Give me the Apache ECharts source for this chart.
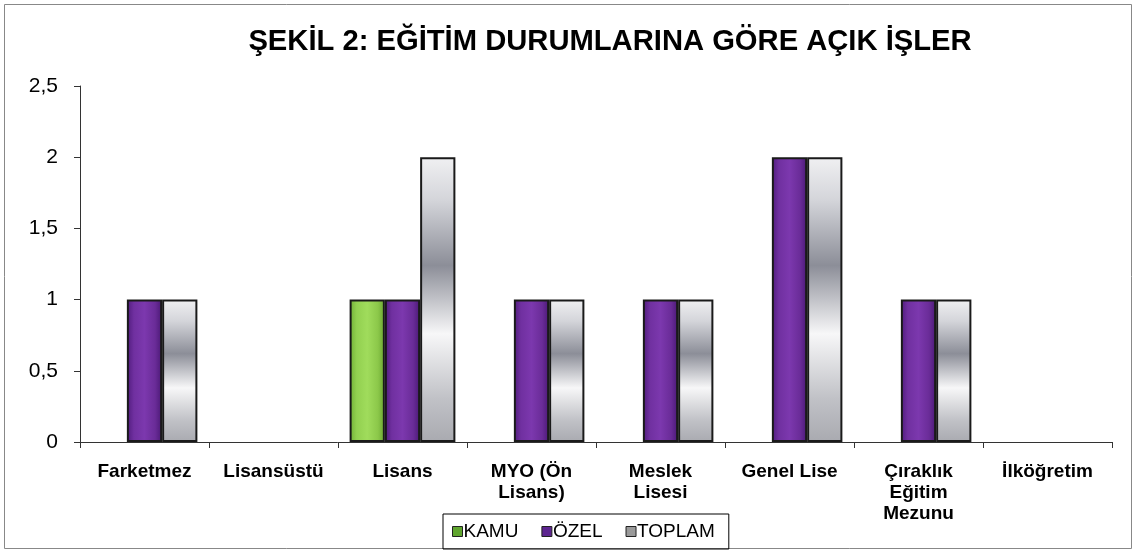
<!DOCTYPE html>
<html><head><meta charset="utf-8">
<script src="https://cdn.jsdelivr.net/npm/echarts@6/dist/echarts.min.js"></script>
<style>html,body{margin:0;padding:0;background:#fff}#c{width:1136px;height:553px}</style>
</head><body><div id="c"></div>
<script>
const categories = ['Farketmez','Lisansüstü','Lisans','MYO (Ön\nLisans)','Meslek\nLisesi','Genel Lise','Çıraklık\nEğitim\nMezunu','İlköğretim'];
const kamu = [0,0,1,0,0,0,0,0];
const ozel = [1,0,1,1,1,2,1,0];
const toplam = [1,0,2,1,1,2,1,0];
const seriesNames = ['KAMU','ÖZEL','TOPLAM'];
const yTicks = ['0','0,5','1','1,5','2','2,5'];
const titleText = 'ŞEKİL 2: EĞİTİM DURUMLARINA GÖRE AÇIK İŞLER';

const chart = echarts.init(document.getElementById('c'));
const font = 'Arial, "Liberation Sans", sans-serif';
function hGrad(stops){return new echarts.graphic.LinearGradient(0,0,1,0,stops);}
function vGrad(stops){return new echarts.graphic.LinearGradient(0,0,0,1,stops);}
const greenFill = hGrad([{offset:0,color:'#6fae35'},{offset:0.2,color:'#92d050'},{offset:0.5,color:'#a0dc5c'},{offset:0.8,color:'#8cc84a'},{offset:1,color:'#68a530'}]);
const purpleFill = hGrad([{offset:0,color:'#4f1b7c'},{offset:0.2,color:'#7030a0'},{offset:0.5,color:'#7c38ae'},{offset:0.8,color:'#6a2c98'},{offset:1,color:'#4a1875'}]);
const grayFill = vGrad([{offset:0,color:'#f0f0f2'},{offset:0.15,color:'#d4d5da'},{offset:0.38,color:'#8c8e98'},{offset:0.62,color:'#f7f7f8'},{offset:0.85,color:'#c0c1c6'},{offset:1,color:'#a9aab0'}]);
const fills = [greenFill, purpleFill, grayFill];
const legendColors = ['#5fa52e','#5d2590','#9a9a9a'];
const dataSets = [kamu, ozel, toplam];

chart.setOption({
  animation:false,
  backgroundColor:'#fff',
  title:{text:titleText,left:605,top:22,textAlign:'center',
    textStyle:{fontFamily:font,fontWeight:'bold',fontSize:29.2,color:'#000'}},
  legend:{bottom:4,left:443,data:seriesNames.map((n,i)=>({name:n,itemStyle:{color:legendColors[i],borderColor:'#222',borderWidth:1}})),
    itemWidth:10,itemHeight:10,itemGap:23,icon:'rect',
    borderColor:'#000',borderWidth:1,padding:[8,14,8,9],
    textStyle:{fontFamily:font,fontSize:19,color:'#000',padding:[0,0,0,-4]}},
  grid:{left:80,right:24,top:86,bottom:111},
  xAxis:{type:'category',data:categories,
    axisLine:{lineStyle:{color:'#333',width:1}},
    axisTick:{show:true,length:6,lineStyle:{color:'#333'}},
    axisLabel:{fontFamily:font,fontWeight:'bold',fontSize:19,color:'#000',lineHeight:21,margin:19,interval:0,verticalAlign:'top'}},
  yAxis:{type:'value',min:0,max:2.5,interval:0.5,
    splitLine:{show:false},
    axisLine:{show:true,lineStyle:{color:'#333',width:1}},
    axisTick:{show:true,length:6,lineStyle:{color:'#333'}},
    axisLabel:{fontFamily:font,fontSize:21,color:'#000',margin:22,formatter:(v)=>yTicks[Math.round(v/0.5)]}},
  series:seriesNames.map((n,i)=>({name:n,type:'bar',
    data:dataSets[i].map(v=>v===0?{value:v,itemStyle:{borderWidth:0}}:v),
    barGap:'0%',barCategoryGap:'18%',
    itemStyle:{color:fills[i],borderColor:'#1a1a1a',borderWidth:2}}))
});
chart.setOption({graphic:[{type:'rect',shape:{x:4.5,y:4.5,width:1127,height:544},style:{fill:'none',stroke:'#888',lineWidth:1},silent:true}]});
</script></body></html>
